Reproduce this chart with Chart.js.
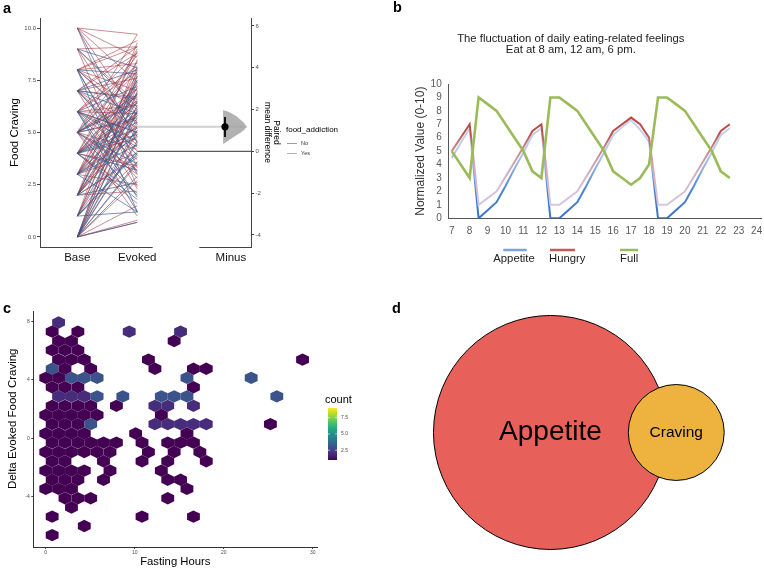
<!DOCTYPE html>
<html><head><meta charset="utf-8">
<script src="https://cdn.jsdelivr.net/npm/chart.js@4.4.1/dist/chart.umd.min.js"></script>
<style>
html,body{margin:0;padding:0;background:#fff;}
#wrap{position:relative;width:764px;height:569px;overflow:hidden;background:#fff;font-family:"Liberation Sans",Arial,Helvetica,sans-serif;}
canvas{position:absolute;}
.lbl{position:absolute;font-weight:bold;font-size:14.5px;line-height:14.5px;color:#000;}
</style></head><body>
<div id="wrap">
<canvas id="ca" width="380" height="270" style="left:0;top:0"></canvas>
<canvas id="cb" width="407" height="275" style="left:380px;top:0"></canvas>
<canvas id="cc" width="380" height="279" style="left:0;top:290px"></canvas>
<canvas id="cd" width="384" height="279" style="left:380px;top:290px"></canvas>
<div class="lbl" style="left:3px;top:1px">a</div>
<div class="lbl" style="left:393px;top:0px">b</div>
<div class="lbl" style="left:3px;top:301px">c</div>
<div class="lbl" style="left:392px;top:301px">d</div>
</div>
<script>
// ================= DATA =================
// --- panel a: paired food craving (Base -> Evoked) ---
const pairCats = ['Base', 'Evoked', 'Minus'];
const pairGroups = ['No', 'Yes'];
const legendTitleA = 'food_addiction';
const baseNo = [10,9,9,8,8,8,7,7,7,6,6,6,6,5,5,5,5,5,4,4,4,4,4,3,3,3,3,2,2,2,2,1,1,1,0,0,0,0,0,0,8,7,5,4,3,2,0,6,4,1];
const evokedNo = [4.5,8.1,6.2,1.2,7.8,5.4,8.0,3.9,6.6,1.2,7.2,5.0,4.3,2.0,6.8,5.7,3.5,8.1,1.8,6.1,4.9,5.5,3.2,1.2,6.9,4.4,5.8,7.5,2.6,5.1,3.8,6.3,4.0,1.2,0.7,2.9,5.3,6.0,7.7,4.6,3.0,5.9,6.4,7.1,4.8,6.5,3.6,1.9,5.2,4.1];
const baseYes = [10,10,10,10,10,9,9,9,8,8,8,8,8,8,7,7,7,7,7,7,7,6,6,6,6,6,6,6,5,5,5,5,5,5,5,5,4,4,4,4,4,4,4,4,3,3,3,3,3,3,3,2,2,2,2,2,2,2,1,1,1,1,1,0,0,0,0,0,0,0,0,0,6,5,4,3,2,8,7,5,4,3,1,0,9,6,2,4,5,0];
const evokedYes = [9.7,7.4,5.8,3.3,8.6,9.1,6.4,4.8,9.1,7.0,5.5,3.1,8.3,6.1,8.8,5.2,7.6,4.4,2.3,6.7,9.1,7.9,5.0,8.2,3.7,6.3,2.8,5.9,9.7,7.1,4.2,6.5,3.0,8.7,5.6,1.0,8.4,5.9,7.3,2.1,4.7,6.8,3.4,9.0,6.0,7.8,2.5,5.3,8.9,4.0,6.6,7.7,3.9,5.4,8.1,2.2,6.2,9.3,4.9,7.2,3.6,5.7,8.5,0.8,5.1,7.0,3.5,6.9,2.7,8.0,4.5,0.7,4.6,3.2,1.6,7.5,6.0,9.4,4.1,6.7,5.8,5.0,7.4,6.1,2.4,8.8,5.5,6.4,7.9,1.5];
const meanBase = 4.1;
const meanEvoked = 5.27;
const diffMean = 1.17;
const diffCi = [0.68, 1.64];
const diffDistY = [0.36,0.45,0.6,0.75,0.9,1.05,1.15,1.25,1.4,1.55,1.7,1.8,1.88,1.94,1.98];
const diffDistDensity = [0,0.15,0.35,0.55,0.78,0.95,1.0,0.98,0.88,0.72,0.55,0.4,0.25,0.1,0];
const cravingTicks = [0, 2.5, 5, 7.5, 10];
const diffTicks = [-4, -2, 0, 2, 4, 6];

// --- panel b: daily eating-related feelings ---
const feelTitle = ['The fluctuation of daily eating-related feelings', 'Eat at 8 am, 12 am, 6 pm.'];
const feelSeries = ['Appetite', 'Hungry', 'Full'];
const feelHours = [7,7.5,8,8.5,9,9.5,10,10.5,11,11.5,12,12.5,13,13.5,14,14.5,15,15.5,16,16.5,17,17.5,18,18.5,19,19.5,20,20.5,21,21.5,22,22.5];
const appetite = [4.5,5.6,6.7,0,0.6,1.2,2.4,3.7,4.9,6.2,6.7,0,0,0.6,1.2,2.4,3.7,4.9,6.2,6.8,7.3,6.6,5.7,0,0,0.6,1.2,2.4,3.7,4.9,6.2,6.7];
const hungry = [5,6,7,1,1.5,2,3.1,4.2,5.3,6.5,7,1,1,1.5,2,3.1,4.2,5.3,6.5,7,7.5,7,6,1,1,1.5,2,3.1,4.2,5.3,6.5,7];
const full = [5,4,3,9,8.5,8,7,6,5,3.5,3,9,9,8.5,8,7,6,5,3.5,3,2.5,3,4,9,9,8.5,8,7,6,5,3.5,3];
const hourTicks = [7,8,9,10,11,12,13,14,15,16,17,18,19,20,21,22,23,24];
const valueTicks = [0,1,2,3,4,5,6,7,8,9,10];

// --- panel c: hexbin of fasting hours vs delta craving ---
const hexX = [
  1.44,
  0.72,3.61,9.38,15.15,
  1.44,2.89,14.43,
  0.72,2.16,3.61,
  1.44,2.89,4.33,11.54,28.86,
  0.72,2.16,5.05,12.27,16.60,18.04,
  0,1.44,2.89,4.33,5.77,15.87,23.09,
  0.72,2.16,3.61,16.60,
  1.44,2.89,4.33,5.77,8.66,12.99,14.43,15.87,25.97,
  0.72,2.16,3.61,5.05,7.94,12.27,13.71,16.60,
  0,1.44,2.89,4.33,5.77,12.99,
  0.72,2.16,3.61,5.05,12.27,13.71,15.15,16.60,18.04,25.25,
  0,1.44,2.89,4.33,10.10,15.87,
  0.72,2.16,3.61,5.05,6.49,7.94,10.82,13.71,15.15,16.60,
  0,1.44,2.89,4.33,5.77,7.22,11.54,14.43,17.32,
  0.72,2.16,6.49,10.82,13.71,18.04,
  0,1.44,2.89,4.33,7.22,12.99,
  0.72,2.16,3.61,6.49,13.71,15.15,
  0,1.44,2.89,15.87,
  2.16,3.61,5.05,13.71,
  2.89,
  0.72,10.82,16.60,
  4.33,
  0.72
];
const hexY = [
  7.94,
  7.31,7.31,7.31,7.31,
  6.67,6.67,6.67,
  6.04,6.04,6.04,
  5.40,5.40,5.40,5.40,5.40,
  4.77,4.77,4.77,4.77,4.77,4.77,
  4.14,4.14,4.14,4.14,4.14,4.14,4.14,
  3.50,3.50,3.50,3.50,
  2.87,2.87,2.87,2.87,2.87,2.87,2.87,2.87,2.87,
  2.23,2.23,2.23,2.23,2.23,2.23,2.23,2.23,
  1.60,1.60,1.60,1.60,1.60,1.60,
  0.97,0.97,0.97,0.97,0.97,0.97,0.97,0.97,0.97,0.97,
  0.33,0.33,0.33,0.33,0.33,0.33,
  -0.30,-0.30,-0.30,-0.30,-0.30,-0.30,-0.30,-0.30,-0.30,-0.30,
  -0.94,-0.94,-0.94,-0.94,-0.94,-0.94,-0.94,-0.94,-0.94,
  -1.57,-1.57,-1.57,-1.57,-1.57,-1.57,
  -2.21,-2.21,-2.21,-2.21,-2.21,-2.21,
  -2.84,-2.84,-2.84,-2.84,-2.84,-2.84,
  -3.47,-3.47,-3.47,-3.47,
  -4.11,-4.11,-4.11,-4.11,
  -4.74,
  -5.37,-5.37,-5.37,
  -6.01,
  -6.64
];
const hexCount = [
  2,
  1,1,2,2,
  1,1,1,
  1,1,1,
  1,1,1,1,1,
  3,1,1,1,1,1,
  1,1,3,3,3,3,3,
  1,1,1,1,
  2,2,2,3,3,3,3,3,3,
  1,1,1,1,1,2,2,2,
  1,1,1,1,1,1,
  1,1,1,3,2,2,2,2,2,1,
  1,1,1,1,1,1,
  1,1,1,1,1,1,1,1,1,1,
  1,1,1,1,1,1,1,1,1,
  1,1,1,1,1,1,
  1,1,1,1,1,1,
  1,1,1,1,1,1,
  1,1,1,1,
  1,1,1,1,
  1,
  1,1,1,
  1,
  1
];
const hexBinW = 1.443;   // hexagon width (hours)
const hexBinH = 0.845;   // hexagon height (craving units)
const countRange = [1, 9];
const countTicks = [2.5, 5, 7.5];
const fastTicks = [0, 10, 20, 30];
const deltaTicks = [-4, 0, 4, 8];
const hexYTitle = 'Delta Evoked Food Craving';

// --- panel d: Venn of Appetite and Craving ---
const vennSets = ['Appetite', 'Craving'];
const vennR = [1, 0.41];
const vennX = [0, 1.075];
const vennY = [0, 0];

// ================= SETUP =================
const FONT = "'Liberation Sans', Arial, Helvetica, sans-serif";
Chart.defaults.font.family = FONT;
Chart.defaults.color = '#000';
Chart.defaults.animation = false;
Chart.defaults.events = [];
Chart.defaults.responsive = false;
Chart.defaults.devicePixelRatio = 1;
Chart.defaults.plugins.legend.display = false;
Chart.defaults.plugins.tooltip.enabled = false;

const setTicks = (vals) => (scale) => { scale.ticks = vals.map(v => ({value: v})); };

// ================= PANEL A =================
const X_POS = {Base: 1, Evoked: 2, Minus: 3.56};
const X_DIFF = 3.462, X_VIOLIN = 3.43, VIOLIN_W = 0.38;
const pairLines = (base, evoked) => base.flatMap((b, i) => [
  {x: X_POS.Base, y: b}, {x: X_POS.Evoked, y: evoked[i]}, {x: 1.5, y: null}
]);
const groupColors = ['rgba(50,86,140,0.72)', 'rgba(160,50,62,0.62)'];
const groupLegendColors = ['#8aa2c9', '#d8a0a6'];

const pairPlugin = {
  id: 'pairExtras',
  afterDraw(chart) {
    const {ctx, chartArea, scales} = chart;
    const x = scales.x;
    ctx.save();
    ctx.strokeStyle = '#444';
    ctx.lineWidth = 1;
    const yb = Math.round(chartArea.bottom) + 0.5;
    [[x.min, 2.257], [3.033, x.max]].forEach(([a, b]) => {
      ctx.beginPath();
      ctx.moveTo(x.getPixelForValue(a), yb);
      ctx.lineTo(x.getPixelForValue(b), yb);
      ctx.stroke();
    });
    ctx.textAlign = 'left';
    ctx.textBaseline = 'middle';
    ctx.fillStyle = '#000';
    ctx.font = '8px ' + FONT;
    ctx.fillText(legendTitleA, 286, 130);
    pairGroups.forEach((g, i) => {
      const yy = 143.5 + i * 10;
      ctx.strokeStyle = groupLegendColors[i];
      ctx.beginPath(); ctx.moveTo(287, yy); ctx.lineTo(297, yy); ctx.stroke();
      ctx.fillStyle = '#333';
      ctx.font = '5.5px ' + FONT;
      ctx.fillText(g, 301, yy);
    });
    ctx.restore();
  }
};

new Chart(document.getElementById('ca'), {
  type: 'line',
  data: {
    datasets: [
      {label: 'mean difference', data: [{x: X_DIFF, y: diffMean}], yAxisID: 'y2', showLine: false,
       pointRadius: 3.6, pointBackgroundColor: '#000', pointBorderColor: '#000', pointBorderWidth: 0, order: 0},
      {label: 'ci', data: [{x: X_DIFF, y: diffCi[0]}, {x: X_DIFF, y: diffCi[1]}], yAxisID: 'y2',
       borderColor: '#111', borderWidth: 2, pointRadius: 0, order: 1},
      {label: 'bootstrap', data: diffDistY.map((y, i) => ({x: X_VIOLIN + diffDistDensity[i] * VIOLIN_W, y})),
       yAxisID: 'y2', borderColor: 'rgba(0,0,0,0)', borderWidth: 1, backgroundColor: 'rgba(165,165,165,0.85)',
       fill: 'shape', pointRadius: 0, tension: 0.4, order: 2},
      {label: 'meanEvoked', data: [{x: X_POS.Evoked, y: meanEvoked}, {x: 3.83, y: meanEvoked}],
       borderColor: '#cfcfcf', borderWidth: 2, pointRadius: 0, order: 3},
      {label: 'meanBase', data: [{x: X_POS.Evoked, y: meanBase}, {x: 3.895, y: meanBase}],
       borderColor: '#333', borderWidth: 1, pointRadius: 0, order: 3},
      {label: pairGroups[0], data: pairLines(baseNo, evokedNo), borderColor: groupColors[0],
       borderWidth: 0.9, pointRadius: 0, spanGaps: false, order: 5},
      {label: pairGroups[1], data: pairLines(baseYes, evokedYes), borderColor: groupColors[1],
       borderWidth: 0.9, pointRadius: 0, spanGaps: false, order: 6}
    ]
  },
  options: {
    layout: {padding: {left: 0, top: 18, right: 99, bottom: 0}},
    scales: {
      x: {
        type: 'linear', min: 0.387, max: 3.895,
        afterBuildTicks: setTicks(pairCats.map(c => X_POS[c])),
        afterFit: (s) => { s.height = 23; },
        grid: {display: false, drawTicks: false},
        border: {display: false},
        ticks: {autoSkip: false, maxRotation: 0, padding: 4, color: '#111', font: {size: 11.5},
                callback: (v, i) => pairCats[i]}
      },
      y: {
        type: 'linear', position: 'left', min: -0.48, max: 10.48,
        afterBuildTicks: setTicks(cravingTicks),
        afterFit: (s) => { s.width = 40.5; },
        grid: {display: true, drawOnChartArea: false, drawTicks: true, tickLength: 3.5, color: '#444'},
        border: {display: true, color: '#444', width: 1},
        ticks: {autoSkip: false, padding: 1, color: '#4d4d4d', font: {size: 6}, callback: (v) => Number(v).toFixed(1)},
        title: {display: true, text: 'Food Craving', color: '#000', font: {size: 11.5}, padding: {top: 8, bottom: 0}}
      },
      y2: {
        type: 'linear', position: 'right', min: -4.58, max: 6.38,
        afterBuildTicks: setTicks(diffTicks),
        afterFit: (s) => { s.width = 30; },
        grid: {display: true, drawOnChartArea: false, drawTicks: true, tickLength: 3, color: '#444'},
        border: {display: true, color: '#444', width: 1},
        ticks: {autoSkip: false, padding: 1.5, color: '#4d4d4d', font: {size: 6}},
        title: {display: true, text: ['Paired', 'mean difference'], color: '#000',
                font: {size: 8.5, lineHeight: '9px'}, padding: 0}
      }
    }
  },
  plugins: [pairPlugin]
});

// ================= PANEL B =================
const appetiteStops = [[0,'#3a73c8'],[2,'#4a82cf'],[3.8,'#8fb0df'],[5,'#b9cdea'],[8,'#c8d7ef']];
const hungryStops = [[0,'#dccde4'],[2,'#d6c0d8'],[4,'#cfa5b5'],[5.3,'#c87f88'],[6.3,'#c0504d'],[8,'#b8403e']];
function vGrad(chart, stops) {
  const {ctx, chartArea, scales} = chart;
  if (!chartArea || !scales.y) return stops[0][1];
  const y = scales.y;
  const g = ctx.createLinearGradient(0, y.getPixelForValue(0), 0, y.getPixelForValue(10));
  stops.forEach(([v, c]) => g.addColorStop(Math.min(1, v / 10), c));
  return g;
}
const feelLegend = [
  {text: feelSeries[0], tx: 113.3, l0: 123.3, l1: 146.7, color: '#7ea3dc'},
  {text: feelSeries[1], tx: 169, l0: 170, l1: 195, color: '#c45a5a'},
  {text: feelSeries[2], tx: 240, l0: 240, l1: 258, color: '#9bbb59'}
];
const feelLegendPlugin = {
  id: 'feelLegend',
  afterDraw(chart) {
    const {ctx} = chart;
    ctx.save();
    feelLegend.forEach(it => {
      ctx.strokeStyle = it.color;
      ctx.lineWidth = 2.5;
      ctx.beginPath(); ctx.moveTo(it.l0, 250); ctx.lineTo(it.l1, 250); ctx.stroke();
      ctx.fillStyle = '#222';
      ctx.font = '11.3px ' + FONT;
      ctx.textAlign = 'left';
      ctx.textBaseline = 'middle';
      ctx.fillText(it.text, it.tx, 258.5);
    });
    ctx.restore();
  }
};

new Chart(document.getElementById('cb'), {
  type: 'line',
  data: {
    datasets: [
      {label: feelSeries[2], data: feelHours.map((h, i) => ({x: h, y: full[i]})),
       borderColor: '#9bbb59', borderWidth: 2.6, pointRadius: 0, order: 0},
      {label: feelSeries[1], data: feelHours.map((h, i) => ({x: h, y: hungry[i]})),
       borderColor: (c) => vGrad(c.chart, hungryStops), borderWidth: 2, pointRadius: 0, order: 1},
      {label: feelSeries[0], data: feelHours.map((h, i) => ({x: h, y: appetite[i]})),
       borderColor: (c) => vGrad(c.chart, appetiteStops), borderWidth: 2, pointRadius: 0, order: 2}
    ]
  },
  options: {
    layout: {padding: {left: 0, top: 0, right: 25.3, bottom: 0}},
    plugins: {
      title: {display: true, text: feelTitle, color: '#222', font: {size: 11.3, weight: 'normal', lineHeight: '11px'},
              padding: {top: 33.5, bottom: 28.5}}
    },
    scales: {
      x: {
        type: 'linear', min: 6.81, max: 24.28,
        afterBuildTicks: setTicks(hourTicks),
        afterFit: (s) => { s.height = 56.7; },
        grid: {display: false, drawTicks: false},
        border: {display: true, color: '#555', width: 1},
        ticks: {autoSkip: false, maxRotation: 0, padding: 6.7, color: '#595959', font: {size: 10}}
      },
      y: {
        type: 'linear', min: 0, max: 10,
        afterBuildTicks: setTicks(valueTicks),
        afterFit: (s) => { s.width = 68.3; },
        grid: {display: false, drawTicks: false},
        border: {display: true, color: '#555', width: 1},
        ticks: {autoSkip: false, padding: 6.6, color: '#595959', font: {size: 10}},
        title: {display: true, text: 'Normalized Value (0-10)', color: '#333', font: {size: 12},
                padding: {top: 33.8, bottom: 0}}
      }
    }
  },
  plugins: [feelLegendPlugin]
});

// ================= PANEL C =================
const viridisStops = ['#440154','#482475','#414487','#355f8d','#2a788e','#21918c','#22a884','#44bf70','#7ad151','#bddf26','#fde725'];
function hexToRgb(h) { return [1, 3, 5].map(i => parseInt(h.substr(i, 2), 16)); }
function viridis(t) {
  t = Math.max(0, Math.min(1, t));
  const n = viridisStops.length - 1;
  const i = Math.min(n - 1, Math.floor(t * n));
  const f = t * n - i;
  const a = hexToRgb(viridisStops[i]), b = hexToRgb(viridisStops[i + 1]);
  const c = a.map((v, k) => Math.round(v + (b[k] - v) * f));
  return 'rgb(' + c.join(',') + ')';
}
const hexPlugin = {
  id: 'hexbin',
  afterDatasetsDraw(chart) {
    const {ctx, scales} = chart;
    const meta = chart.getDatasetMeta(0);
    const w = Math.abs(scales.x.getPixelForValue(hexBinW) - scales.x.getPixelForValue(0));
    const h = Math.abs(scales.y.getPixelForValue(hexBinH) - scales.y.getPixelForValue(0));
    ctx.save();
    meta.data.forEach((pt, i) => {
      const cx = pt.x, cy = pt.y;
      const col = viridis((hexCount[i] - countRange[0]) / (countRange[1] - countRange[0]));
      ctx.fillStyle = col;
      ctx.beginPath();
      ctx.moveTo(cx, cy - h / 2);
      ctx.lineTo(cx + w / 2, cy - h / 4);
      ctx.lineTo(cx + w / 2, cy + h / 4);
      ctx.lineTo(cx, cy + h / 2);
      ctx.lineTo(cx - w / 2, cy + h / 4);
      ctx.lineTo(cx - w / 2, cy - h / 4);
      ctx.closePath();
      ctx.fill();
    });
    ctx.restore();
  },
  afterDraw(chart) {
    const {ctx} = chart;
    const L = 328, R = 337, T = 118, B = 170;
    ctx.save();
    ctx.translate(13.3, 128.8);
    ctx.rotate(-Math.PI / 2);
    ctx.font = '11.5px ' + FONT;
    ctx.fillStyle = '#000';
    ctx.textAlign = 'center';
    ctx.textBaseline = 'middle';
    ctx.fillText(hexYTitle, 0, 0);
    ctx.restore();
    ctx.save();
    const g = ctx.createLinearGradient(0, B, 0, T);
    viridisStops.forEach((c, i) => g.addColorStop(i / (viridisStops.length - 1), c));
    ctx.fillStyle = g;
    ctx.fillRect(L, T, R - L, B - T);
    ctx.fillStyle = '#000';
    ctx.font = '11px ' + FONT;
    ctx.textAlign = 'left';
    ctx.textBaseline = 'middle';
    ctx.fillText('count', 325, 110);
    ctx.font = '5px ' + FONT;
    ctx.fillStyle = '#4d4d4d';
    countTicks.forEach(v => {
      const yy = B - (v - countRange[0]) / (countRange[1] - countRange[0]) * (B - T);
      ctx.strokeStyle = '#fff';
      ctx.lineWidth = 0.6;
      ctx.beginPath(); ctx.moveTo(L, yy); ctx.lineTo(L + 2, yy); ctx.moveTo(R - 2, yy); ctx.lineTo(R, yy); ctx.stroke();
      ctx.fillText(v.toFixed(1), 341, yy);
    });
    ctx.restore();
  }
};

new Chart(document.getElementById('cc'), {
  type: 'scatter',
  data: {datasets: [{label: 'count', data: hexX.map((x, i) => ({x, y: hexY[i]})), pointRadius: 0}]},
  options: {
    layout: {padding: {left: 0, top: 21.7, right: 62.7, bottom: 0}},
    scales: {
      x: {
        type: 'linear', min: -1.40, max: 30.52,
        afterBuildTicks: setTicks(fastTicks),
        afterFit: (s) => { s.height = 22; },
        grid: {display: true, drawOnChartArea: false, drawTicks: true, tickLength: 2, color: '#444'},
        border: {display: true, color: '#333', width: 1},
        ticks: {autoSkip: false, maxRotation: 0, padding: 0.5, color: '#4d4d4d', font: {size: 5}},
        title: {display: true, text: 'Fasting Hours', color: '#000', font: {size: 11.3}, padding: {top: 0, bottom: 0.4}}
      },
      y: {
        type: 'linear', min: -7.45, max: 8.68,
        afterBuildTicks: setTicks(deltaTicks),
        afterFit: (s) => { s.width = 33.3; },
        grid: {display: true, drawOnChartArea: false, drawTicks: true, tickLength: 2, color: '#444'},
        border: {display: true, color: '#333', width: 1},
        ticks: {autoSkip: false, padding: 1.5, color: '#4d4d4d', font: {size: 5}}
      }
    }
  },
  plugins: [hexPlugin]
});

// ================= PANEL D =================
const vennColors = ['#e8605a', '#eeb33f'];
const vennFontSizes = [28, 15.5];
const vennLabelPlugin = {
  id: 'vennLabels',
  afterDatasetsDraw(chart) {
    const {ctx} = chart;
    const meta = chart.getDatasetMeta(0);
    ctx.save();
    ctx.fillStyle = '#000';
    ctx.textAlign = 'center';
    ctx.textBaseline = 'middle';
    meta.data.forEach((pt, i) => {
      ctx.font = vennFontSizes[i] + 'px ' + FONT;
      ctx.fillText(vennSets[i], pt.x, pt.y);
    });
    ctx.restore();
  }
};
const radiusPx = (ctx) => {
  const s = ctx.chart.scales.x;
  return Math.abs(s.getPixelForValue(vennR[ctx.dataIndex]) - s.getPixelForValue(0));
};
new Chart(document.getElementById('cd'), {
  type: 'scatter',
  data: {datasets: [{
    label: 'venn', data: vennX.map((x, i) => ({x, y: vennY[i]})),
    pointRadius: radiusPx, pointHoverRadius: radiusPx,
    backgroundColor: vennColors, borderColor: '#000', borderWidth: 1, clip: false
  }]},
  options: {
    layout: {padding: 0},
    scales: {
      x: {type: 'linear', display: false, min: -1.457, max: 1.825},
      y: {type: 'linear', display: false, min: -1.167, max: 1.218}
    }
  },
  plugins: [vennLabelPlugin]
});
</script>
</body></html>
